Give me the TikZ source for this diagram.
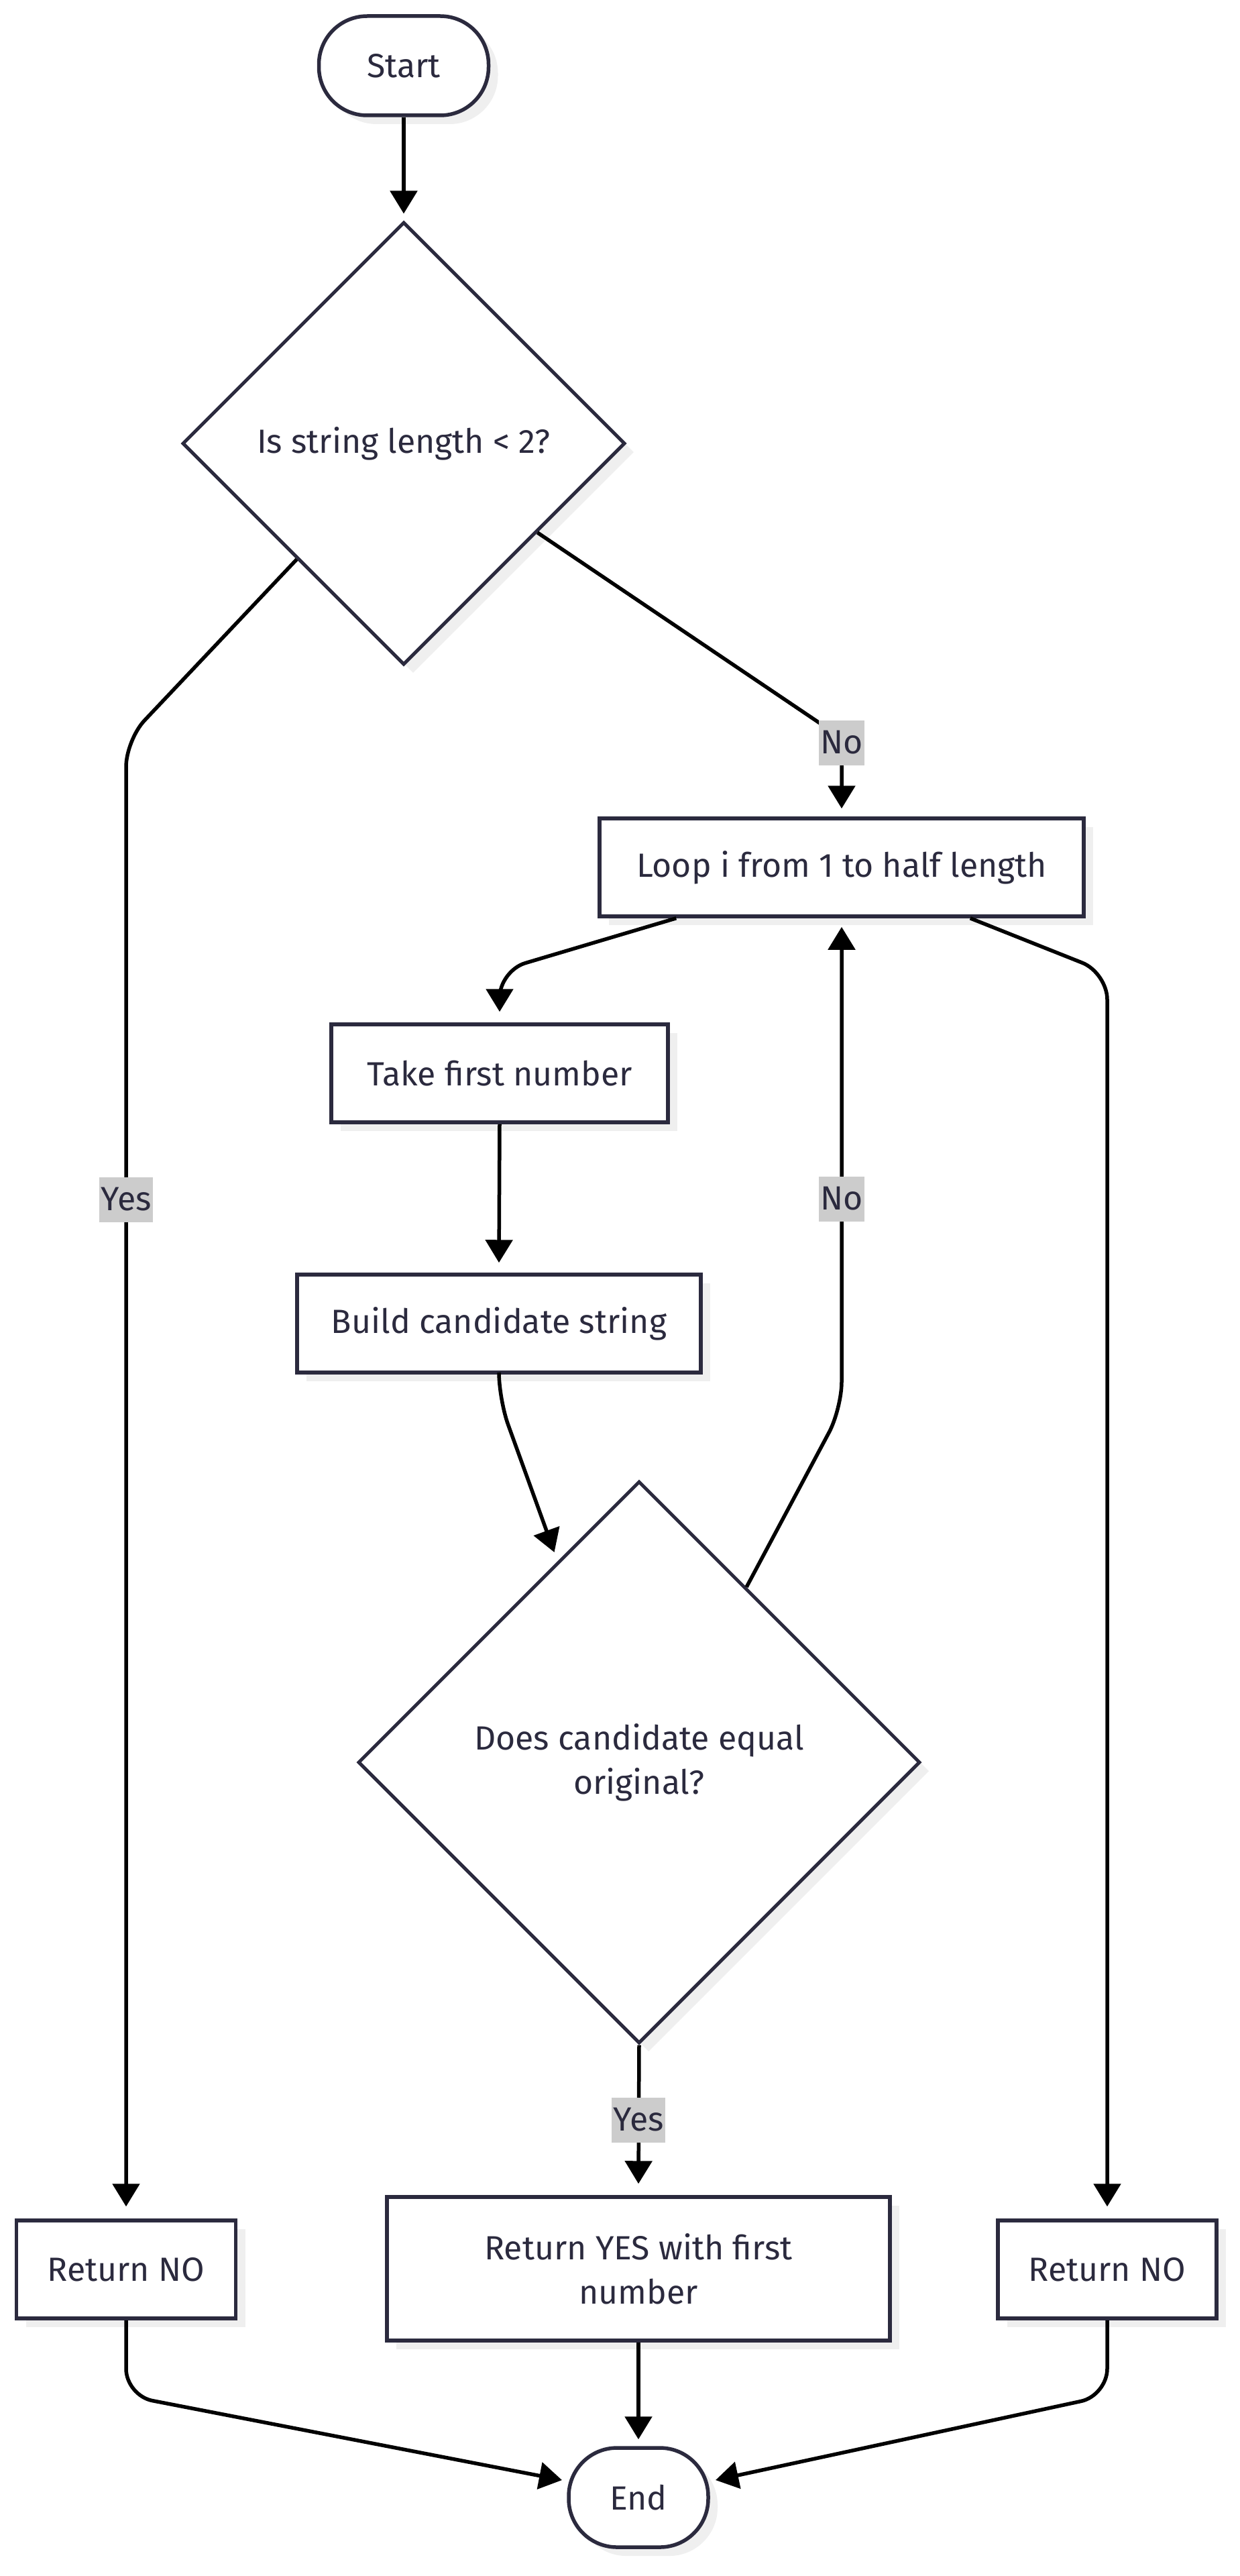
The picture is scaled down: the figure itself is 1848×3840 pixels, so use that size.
\documentclass[tikz,border=0pt]{standalone}
\usepackage{fontspec}
\setmainfont{Fira Sans}
\usetikzlibrary{shapes.geometric,arrows.meta,shadows,calc}
\definecolor{nodeborder}{HTML}{2B2A3E}
\definecolor{txt}{HTML}{2B2A3E}
\definecolor{shadowc}{HTML}{EFEFEF}
\definecolor{lblbg}{HTML}{CCCCCC}
\begin{document}
\begin{tikzpicture}[x=1pt,y=-1pt,
  font=\fontsize{50}{66}\selectfont,
  base/.style={draw=nodeborder, line width=5.5pt, fill=white, text=txt, align=center, inner sep=0pt,
    drop shadow={shadow xshift=14pt, shadow yshift=-13pt, fill=shadowc, opacity=1}},
  procbox/.style={base, rectangle, minimum width=#1, minimum height=146pt},
  term/.style={base, rectangle, rounded corners=72pt, minimum height=148pt},
  decision/.style={base, diamond, minimum width=#1, minimum height=#1, line width=5pt},
  edge/.style={draw=black, line width=5.5pt, -{Triangle[length=34pt,width=40pt]}, rounded corners=40pt},
  lbl/.style={fill=lblbg, text=txt, inner xsep=2pt, inner ysep=0pt, minimum height=67pt}]
\useasboundingbox[fill=white] (0,0) rectangle (1848,3840);

% nodes
\node[term, minimum width=253pt] (start) at (602,98) {Start};
\node[decision=660pt] (d1) at (602,661) {Is string length < 2?};
\node[procbox=722pt] (loop) at (1255,1293) {Loop i from 1 to half length};
\node[procbox=502pt] (take) at (745,1600) {Take first number};
\node[procbox=602pt] (build) at (744,1973) {Build candidate string};
\node[decision=838pt] (d2) at (953,2627) {Does candidate equal\\original?};
\node[procbox=327pt] (nol) at (188,3383) {Return NO};
\node[procbox=750pt, minimum height=214pt] (yes) at (952,3382) {Return YES with first\\number};
\node[procbox=326pt] (nor) at (1651,3383) {Return NO};
\node[term, minimum width=208pt] (end) at (952,3723) {End};

% connector bend points
\coordinate (b1) at (188,1103);
\coordinate (b2) at (1255,1100);
\coordinate (b3) at (745,1447);
\coordinate (b4) at (1651,1450);
\coordinate (b5) at (744,2086);
\coordinate (b6) at (1255,2100);
\coordinate (b7) at (188,3571);
\coordinate (b8) at (1651,3571);
\coordinate (t1) at (838,3697);
\coordinate (t2) at (1067,3697);

% connectors
\draw[edge] (start.south) -- ($(d1.north)+(0,-10)$);
\draw[edge] ($(d1.west)!0.52!(d1.south)$) -- (b1) -- ($(nol.north)+(0,-18)$);
\draw[edge] ($(d1.east)!0.4!(d1.south)$) -- (b2) -- ($(loop.north)+(0,-12)$);
\draw[edge] ($(loop.south west)+(117,0)$) -- (b3) -- ($(take.north)+(0,-16)$);
\draw[edge] ($(loop.south east)+(-172,0)$) -- (b4) -- ($(nor.north)+(0,-18)$);
\draw[edge] (take.south) -- ($(build.north)+(0,-15)$);
\draw[edge] (build.south) -- (b5) -- ($(d2.north)!0.3!(d2.west)+(0,-18)$);
\draw[edge] ($(d2.north)!0.38!(d2.east)$) -- (b6) -- ($(loop.south)+(0,13)$);
\draw[edge] (d2.south) -- ($(yes.north)+(0,-17)$);
\draw[edge] (yes.south) -- ($(end.north)+(0,-10)$);
\draw[edge] (nol.south) -- (b7) -- (t1);
\draw[edge] (nor.south) -- (b8) -- (t2);

% labels
\node[lbl] (l1) at (188,1788) {Yes};
\node[lbl] (l2) at (1255,1107) {No};
\node[lbl] (l3) at (1255,1787) {No};
\node[lbl] (l4) at (952,3160) {Yes};
\end{tikzpicture}
\end{document}
